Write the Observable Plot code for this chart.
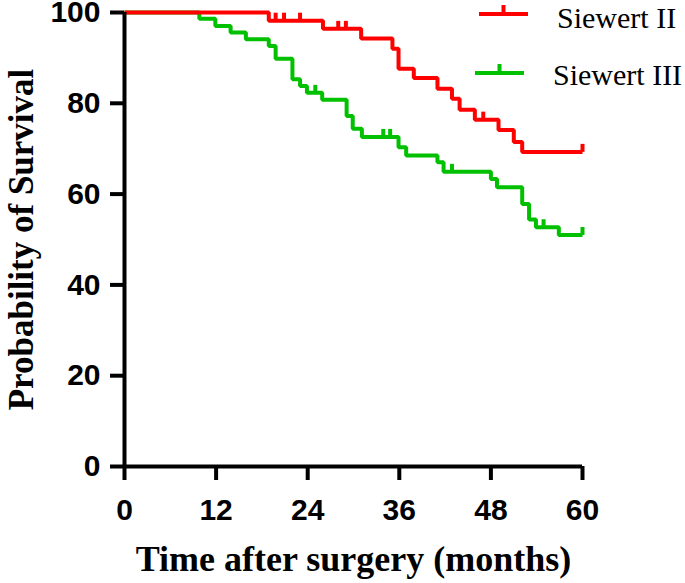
<!DOCTYPE html>
<html>
<head>
<meta charset="utf-8">
<script src="https://cdn.jsdelivr.net/npm/d3@7"></script>
<script src="https://cdn.jsdelivr.net/npm/@observablehq/plot@0.6"></script>
<style>
  html, body { margin: 0; padding: 0; background: white; }
  #wrap { position: relative; width: 685px; height: 583px; overflow: hidden; }
  #legend { position: absolute; left: 0; top: 0; pointer-events: none; }
</style>
</head>
<body>
<div id="wrap"></div>
<script>
// ---- data ----
const groups = ["Siewert II", "Siewert III"];
const colors = ["#ff0000", "#00c000"];

const timeII = [0, 18.9, 26.0, 31.0, 35.1, 35.9, 37.9, 41.0, 42.9, 43.9, 45.9, 49.0, 51.0, 52.1, 60];
const survII = [100, 98.2, 96.4, 94.3, 92.0, 87.6, 85.6, 83.2, 81.0, 78.6, 76.4, 74.1, 71.5, 69.3, 69.3];
const censorII = [19.8, 20.9, 23.0, 28.0, 29.0, 47.0, 60];

const timeIII = [0, 9.8, 11.9, 13.9, 15.9, 18.9, 19.8, 22.0, 23.0, 23.9, 25.9, 29.1, 29.9, 31.1, 35.9, 36.9, 41.0, 41.8, 48.0, 48.8, 52.1, 53.0, 53.9, 56.9, 60];
const survIII = [100, 98.6, 97.0, 95.6, 94.1, 92.6, 89.8, 85.3, 83.8, 82.3, 80.8, 77.2, 74.4, 72.6, 70.3, 68.5, 67.0, 64.9, 63.3, 61.5, 57.8, 54.4, 52.7, 51.0, 51.0];
const censorIII = [25.0, 33.9, 34.8, 42.9, 54.9, 60];

const xTicks = [0, 12, 24, 36, 48, 60];
const yTicks = [0, 20, 40, 60, 80, 100];
const xTitle = "Time after surgery (months)";
const yTitle = "Probability of Survival";

// ---- derived tables ----
const series = [
  {group: groups[0], times: timeII, surv: survII, censor: censorII},
  {group: groups[1], times: timeIII, surv: survIII, censor: censorIII}
];
function survAt(s, t) {
  let v = s.surv[0];
  for (let i = 0; i < s.times.length; i++) if (s.times[i] <= t) v = s.surv[i];
  return v;
}
// draw green first, red on top
const order = [series[1], series[0]];
const steps = order.flatMap(s => s.times.map((t, i) => ({group: s.group, time: t, surv: s.surv[i]})));
const censors = order.flatMap(s => s.censor.map(t => ({group: s.group, time: t, surv: survAt(s, t)})));

const censorTick = {
  draw(context) { context.moveTo(0, 0); context.lineTo(0, -8); }
};

const serif = "'Liberation Serif', 'Times New Roman', Times, serif";

const chart = Plot.plot({
  width: 685,
  height: 583,
  marginLeft: 124,
  marginRight: 103,
  marginTop: 12,
  marginBottom: 117,
  x: {domain: [0, 60]},
  y: {domain: [0, 100]},
  color: {domain: groups, range: colors},
  style: {
    fontFamily: "'Liberation Sans', Arial, Helvetica, sans-serif",
    fontSize: "30px",
    fontWeight: "bold",
    color: "black",
    background: "white",
    overflow: "visible"
  },
  marks: [
    Plot.axisX({ticks: xTicks, tickSize: 14, tickPadding: 18, strokeWidth: 4, label: null, tickFormat: d => String(d)}),
    Plot.axisY({ticks: yTicks, tickSize: 14, tickPadding: 10, strokeWidth: 4, label: null, tickFormat: d => String(d)}),
    Plot.line(steps, {x: "time", y: "surv", z: "group", stroke: "group", curve: "step-after",
      strokeWidth: 4, strokeLinejoin: "miter", strokeLinecap: "butt"}),
    Plot.dot(censors, {x: "time", y: "surv", stroke: "group", fill: "none", symbol: censorTick, r: 4, strokeWidth: 4}),
    Plot.ruleY([0], {strokeWidth: 4}),
    Plot.ruleX([0], {strokeWidth: 4}),
    Plot.text([xTitle], {text: d => d, frameAnchor: "bottom", dy: 104, lineAnchor: "bottom", textAnchor: "middle",
      fontFamily: serif, fontSize: 36, fontWeight: "bold", fill: "black"}),
    Plot.text([yTitle], {text: d => d, frameAnchor: "left", dx: -92, rotate: -90, lineAnchor: "bottom", textAnchor: "middle",
      fontFamily: serif, fontSize: 35, fontWeight: "bold", fill: "black"})
  ]
});

const wrap = document.getElementById("wrap");
wrap.appendChild(chart);

// ---- legend (overlay, top right) ----
const legend = d3.select(wrap).append("svg")
  .attr("id", "legend").attr("width", 685).attr("height", 583);
const legendPos = [{x: 479, y: 14, tx: 557, ty: 28}, {x: 475, y: 73, tx: 553, ty: 85}];
groups.forEach((g, i) => {
  const p = legendPos[i];
  const item = legend.append("g");
  item.append("line").attr("x1", p.x).attr("x2", p.x + 49).attr("y1", p.y).attr("y2", p.y)
    .attr("stroke", colors[i]).attr("stroke-width", 4);
  item.append("line").attr("x1", p.x + 24.5).attr("x2", p.x + 24.5).attr("y1", p.y).attr("y2", p.y - 9)
    .attr("stroke", colors[i]).attr("stroke-width", 4);
  item.append("text").attr("x", p.tx).attr("y", p.ty).text(g)
    .attr("font-family", serif).attr("font-size", 30).attr("fill", "black");
});
</script>
</body>
</html>
